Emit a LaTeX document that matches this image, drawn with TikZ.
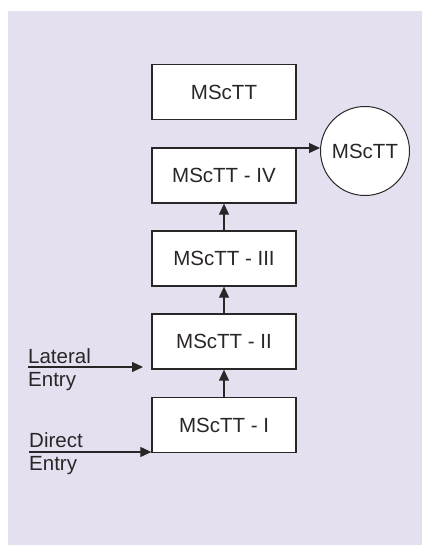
\documentclass[tikz,border=0pt]{standalone}
\usepackage{fontspec}
\setmainfont{Liberation Sans}
\usetikzlibrary{arrows.meta}
\definecolor{bgc}{HTML}{E4E0EF}
\definecolor{ink}{HTML}{2A2627}
\begin{document}
\begin{tikzpicture}[x=1pt,y=-1pt,
  every node/.style={font=\fontsize{20.5}{24}\selectfont, text=ink},
  stagebox/.style={draw=ink, fill=white, line width=1.3pt, minimum width=144pt, minimum height=55pt, inner sep=0pt},
  endcircle/.style={draw=ink, fill=white, line width=1pt, circle, minimum size=89pt, inner sep=0pt},
  lbl/.style={anchor=base west, inner sep=0pt},
  conn/.style={draw=ink, line width=1.1pt, -{Triangle[length=11pt 0,width=10pt 0]}}]
\useasboundingbox (0,0) rectangle (422,545);
\fill[bgc] (8,11) rectangle (422,545);
\node[stagebox] (top) at (224,92) {MScTT};
\node[stagebox] (s4) at (224,175.5) {MScTT - IV};
\node[stagebox] (s3) at (224,258.5) {MScTT - III};
\node[stagebox] (s2) at (224,341.5) {MScTT - II};
\node[stagebox] (s1) at (224,425) {MScTT - I};
\node[endcircle] (c) at (365,151) {MScTT};
\draw[conn] (s1.north) -- (s2.south);
\draw[conn] (s2.north) -- (s3.south);
\draw[conn] (s3.north) -- (s4.south);
\coordinate (c4) at (277,148);
\draw[conn] (c4) -- (c.west |- c4);
\node[lbl] (lat) at (28,363) {Lateral};
\node[lbl] (lat2) at (28,386) {Entry};
\coordinate (la) at (28,367);
\coordinate (lb) at (143,367);
\draw[conn] (la) -- (lb);
\node[lbl] (dir) at (29,447) {Direct};
\node[lbl] (dir2) at (29,470) {Entry};
\coordinate (da) at (29,452);
\draw[conn] (da) -- (da -| s1.west);
\end{tikzpicture}
\end{document}
